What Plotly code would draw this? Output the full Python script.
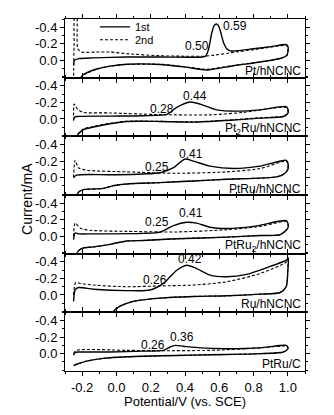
import plotly.graph_objects as go
from plotly.subplots import make_subplots

# ---------------- data ----------------
PANEL_LABELS = ["Pt/hNCNC", "Pt<sub>2</sub>Ru/hNCNC", "PtRu/hNCNC",
                "PtRu<sub>2</sub>/hNCNC", "Ru/hNCNC", "PtRu/C"]
ONSET_LABELS = ["0.50", "0.28", "0.25", "0.25", "0.26", "0.26"]
PEAK_LABELS = ["0.59", "0.44", "0.41", "0.41", "0.42", "0.36"]
SERIES_NAMES = ["1st", "2nd"]

X_TICKS = [-0.2, 0.0, 0.2, 0.4, 0.6, 0.8, 1.0]
X_TICK_TEXT = ["-0.2", "0.0", "0.2", "0.4", "0.6", "0.8", "1.0"]
Y_TICKS = [-0.4, -0.2, 0.0]
Y_TICK_TEXT = ["-0.4", "-0.2", "0.0"]

# Pt/hNCNC
PT_1ST_V = [-0.25, -0.245, -0.22, -0.134, 0.06, 0.255, 0.50, 0.52, 0.537, 0.556, 0.57, 0.582,
            0.595, 0.608, 0.624, 0.644, 0.665, 0.70, 0.80, 0.90, 0.99, 1.0, 1.0,
            0.994, 0.96, 0.838, 0.683, 0.527, 0.41, 0.255, 0.06, -0.037, -0.115, -0.193, -0.215]
PT_1ST_I = [0.06, 0.0, -0.02, -0.03, -0.04, -0.04, -0.04, -0.05, -0.13, -0.33, -0.42, -0.44,
            -0.42, -0.34, -0.22, -0.14, -0.115, -0.115, -0.14, -0.165, -0.19, -0.17, -0.10,
            -0.06, -0.025, 0.02, 0.065, 0.117, 0.085, 0.05, 0.048, 0.07, 0.105, 0.175, 0.23]
PT_2ND_V = [-0.25, -0.247, -0.242, -0.232, -0.225, -0.203, -0.12, -0.037, 0.06, 0.255, 0.40, 0.508,
            0.58, 0.663, 0.838, 0.99, 1.0, 1.0,
            0.994, 0.96, 0.838, 0.683, 0.527, 0.41, 0.255, 0.06, -0.037, -0.115, -0.193, -0.215]
PT_2ND_I = [0.25, -0.2, -0.6, -0.6, -0.14, -0.10, -0.10, -0.10, -0.08, -0.055, -0.05, -0.05,
            -0.065, -0.09, -0.14, -0.18, -0.16, -0.10,
            -0.06, -0.025, 0.02, 0.062, 0.108, 0.08, 0.048, 0.05, 0.072, 0.108, 0.178, 0.23]

# Pt2Ru/hNCNC
PT2RU_1ST_V = [-0.25, -0.245, -0.232, -0.037, 0.157, 0.294, 0.352, 0.43, 0.488, 0.585, 0.702,
               0.838, 0.99, 1.0, 1.0,
               0.974, 0.838, 0.644, 0.449, 0.255, 0.06, -0.037, -0.134, -0.193, -0.22, -0.24]
PT2RU_1ST_I = [0.01, -0.02, -0.03, -0.035, -0.04, -0.055, -0.14, -0.205, -0.18, -0.11, -0.095,
               -0.11, -0.15, -0.12, -0.07,
               -0.03, -0.01, 0.018, 0.038, 0.03, 0.03, 0.057, 0.097, 0.128, 0.176, 0.23]
PT2RU_2ND_V = [-0.25, -0.247, -0.24, -0.222, -0.193, -0.037, 0.255, 0.546, 0.741, 0.99, 1.0, 1.0,
               0.974, 0.838, 0.644, 0.449, 0.255, 0.06, -0.037, -0.134, -0.193, -0.22, -0.24]
PT2RU_2ND_I = [0.02, -0.18, -0.16, -0.11, -0.08, -0.073, -0.053, -0.05, -0.08, -0.14, -0.11, -0.07,
               -0.035, -0.015, 0.015, 0.035, 0.028, 0.028, 0.052, 0.09, 0.12, 0.17, 0.23]

# PtRu/hNCNC
PTRU_1ST_V = [-0.25, -0.232, -0.037, 0.157, 0.255, 0.333, 0.40, 0.449, 0.546, 0.683, 0.838,
              0.99, 1.0, 1.0,
              0.974, 0.935, 0.644, 0.449, 0.255, 0.06, -0.018, -0.076, -0.193, -0.222, -0.235]
PTRU_1ST_I = [0.0, -0.03, -0.035, -0.045, -0.06, -0.12, -0.225, -0.2, -0.14, -0.11, -0.14,
              -0.21, -0.18, -0.10,
              -0.04, -0.01, 0.02, 0.04, 0.06, 0.077, 0.097, 0.13, 0.145, 0.176, 0.23]
PTRU_2ND_V = [-0.25, -0.241, -0.222, -0.173, 0.06, 0.352, 0.644, 0.838, 0.99, 1.0, 1.0,
              0.974, 0.935, 0.644, 0.449, 0.255, 0.06, -0.018, -0.076, -0.193, -0.222, -0.235]
PTRU_2ND_I = [0.0, -0.21, -0.12, -0.09, -0.07, -0.053, -0.07, -0.11, -0.2, -0.17, -0.10,
              -0.04, -0.01, 0.02, 0.04, 0.06, 0.077, 0.097, 0.13, 0.145, 0.176, 0.23]

# PtRu2/hNCNC
PTRU2_1ST_V = [-0.25, -0.241, -0.222, -0.134, 0.157, 0.255, 0.333, 0.41, 0.468, 0.546, 0.644,
               0.80, 0.99, 1.0, 1.0,
               0.955, 0.838, 0.644, 0.352, 0.157, 0.06, -0.037, -0.134, -0.193, -0.222, -0.235]
PTRU2_1ST_I = [0.04, -0.04, -0.03, -0.03, -0.035, -0.05, -0.13, -0.17, -0.16, -0.11, -0.095,
               -0.12, -0.19, -0.16, -0.10,
               -0.02, -0.01, 0.01, 0.03, 0.05, 0.057, 0.097, 0.128, 0.14, 0.176, 0.23]
PTRU2_2ND_V = [-0.25, -0.241, -0.212, -0.154, 0.06, 0.352, 0.644, 0.838, 0.99, 1.0, 1.0,
               0.955, 0.838, 0.644, 0.352, 0.157, 0.06, -0.037, -0.134, -0.193, -0.222, -0.235]
PTRU2_2ND_I = [0.0, -0.16, -0.10, -0.073, -0.06, -0.053, -0.08, -0.12, -0.18, -0.15, -0.10,
               -0.02, -0.01, 0.01, 0.03, 0.05, 0.057, 0.097, 0.128, 0.14, 0.176, 0.23]

# Ru/hNCNC
RU_1ST_V = [-0.25, -0.241, -0.222, -0.134, 0.06, 0.196, 0.274, 0.352, 0.41, 0.468, 0.546, 0.644,
            0.76, 0.877, 0.994, 1.003, 1.0, 0.99,
            0.955, 0.838, 0.644, 0.449, 0.255, 0.099, 0.021, -0.018, -0.03]
RU_1ST_I = [0.077, -0.06, -0.09, -0.07, -0.053, -0.06, -0.14, -0.30, -0.36, -0.32, -0.24, -0.22,
            -0.25, -0.33, -0.425, -0.45, -0.30, -0.10,
            -0.03, -0.01, 0.01, 0.018, 0.038, 0.077, 0.136, 0.20, 0.23]
RU_2ND_V = [-0.25, -0.245, -0.238, -0.212, -0.134, 0.06, 0.255, 0.449, 0.644, 0.838, 0.994, 1.0,
            1.0, 0.99, 0.955, 0.838, 0.644, 0.449, 0.255, 0.099, 0.021, -0.018, -0.03]
RU_2ND_I = [0.0, -0.10, -0.15, -0.14, -0.12, -0.10, -0.11, -0.12, -0.16, -0.26, -0.40, -0.43,
            -0.30, -0.10, -0.03, -0.01, 0.01, 0.018, 0.038, 0.077, 0.136, 0.20, 0.23]

# PtRu/C
PTRUC_1ST_V = [-0.25, -0.241, -0.212, -0.037, 0.157, 0.274, 0.313, 0.342, 0.39, 0.488, 0.644,
               0.838, 0.99, 1.0, 1.0,
               0.974, 0.838, 0.644, 0.449, 0.255, 0.06, -0.076, -0.173, -0.232, -0.25]
PTRUC_1ST_I = [0.02, -0.014, -0.02, -0.02, -0.03, -0.04, -0.08, -0.10, -0.09, -0.07, -0.06,
               -0.07, -0.10, -0.08, -0.06,
               -0.02, 0.0, 0.01, 0.018, 0.026, 0.038, 0.057, 0.09, 0.128, 0.145]
PTRUC_2ND_V = [-0.25, -0.232, 0.06, 0.255, 0.546, 0.838, 0.99, 1.0, 1.0,
               0.974, 0.838, 0.644, 0.449, 0.255, 0.06, -0.076, -0.173, -0.232, -0.25]
PTRUC_2ND_I = [0.0, -0.04, -0.04, -0.036, -0.04, -0.07, -0.09, -0.07, -0.06,
               -0.02, 0.0, 0.01, 0.018, 0.026, 0.038, 0.057, 0.09, 0.128, 0.145]

PANELS = [
    (PT_1ST_V, PT_1ST_I, PT_2ND_V, PT_2ND_I),
    (PT2RU_1ST_V, PT2RU_1ST_I, PT2RU_2ND_V, PT2RU_2ND_I),
    (PTRU_1ST_V, PTRU_1ST_I, PTRU_2ND_V, PTRU_2ND_I),
    (PTRU2_1ST_V, PTRU2_1ST_I, PTRU2_2ND_V, PTRU2_2ND_I),
    (RU_1ST_V, RU_1ST_I, RU_2ND_V, RU_2ND_I),
    (PTRUC_1ST_V, PTRUC_1ST_I, PTRUC_2ND_V, PTRUC_2ND_I),
]

# ---------------- label placement (layout, not data) ----------------
ONSET_POS = [(0.470, -0.168), (0.266, -0.124), (0.237, -0.128), (0.237, -0.171), (0.225, -0.183), (0.216, -0.104)]
PEAK_POS = [(0.692, -0.417), (0.458, -0.282), (0.435, -0.285), (0.435, -0.278), (0.432, -0.43), (0.38, -0.203)]
LABEL_Y = [0.129, 0.125, 0.133, 0.117, 0.113, 0.122]

FONT = "Arial, Liberation Sans, sans-serif"
N = len(PANELS)
fig = make_subplots(rows=N, cols=1, shared_xaxes=True, vertical_spacing=0)

for r, (v1, i1, v2, i2) in enumerate(PANELS, start=1):
    fig.add_trace(go.Scatter(x=v1, y=i1, mode="lines", name=SERIES_NAMES[0], legend="legend",
                             line=dict(color="black", width=1.4, shape="spline", smoothing=0.7),
                             showlegend=(r == 1)), row=r, col=1)
    fig.add_trace(go.Scatter(x=v2, y=i2, mode="lines", name=SERIES_NAMES[1], legend="legend2",
                             line=dict(color="black", width=1.1, dash="3px,2px", shape="spline", smoothing=0.7),
                             showlegend=(r == 1)), row=r, col=1)

    xa = "x" if r == 1 else f"x{r}"
    ya = "y" if r == 1 else f"y{r}"
    fig.add_annotation(x=ONSET_POS[r - 1][0], y=ONSET_POS[r - 1][1], xref=xa, yref=ya,
                       xanchor="center", yanchor="middle",
                       text=ONSET_LABELS[r - 1], showarrow=False, font=dict(size=12, color="black", family=FONT))
    fig.add_annotation(x=PEAK_POS[r - 1][0], y=PEAK_POS[r - 1][1], xref=xa, yref=ya,
                       xanchor="center", yanchor="middle",
                       text=PEAK_LABELS[r - 1], showarrow=False, font=dict(size=12, color="black", family=FONT))
    fig.add_annotation(x=0.99, y=LABEL_Y[r - 1], xref=f"{xa} domain", yref=ya, xanchor="right",
                       yanchor="middle",
                       text=PANEL_LABELS[r - 1], showarrow=False, font=dict(size=12, color="black", family=FONT))

    fig.update_yaxes(row=r, col=1, range=[0.21, -0.5], tickvals=Y_TICKS, ticktext=Y_TICK_TEXT,
                     ticks="outside", ticklen=4, tickwidth=1, tickcolor="black",
                     minor=dict(tickvals=[-0.5, -0.3, -0.1, 0.1, 0.2], ticks="outside", ticklen=2, tickcolor="black"),
                     showline=True, linecolor="black", linewidth=1, mirror="allticks",
                     showgrid=False, zeroline=False, automargin=False,
                     tickfont=dict(size=13, color="black", family=FONT))
    fig.update_xaxes(row=r, col=1, range=[-0.3, 1.1], tickvals=X_TICKS, ticktext=X_TICK_TEXT,
                     ticks="outside", ticklen=4, tickwidth=1, tickcolor="black",
                     minor=dict(dtick=0.1, tick0=-0.3, ticks="outside", ticklen=2, tickcolor="black"),
                     showline=True, linecolor="black", linewidth=1, mirror="allticks",
                     showgrid=False, zeroline=False, showticklabels=(r == N), automargin=False,
                     tickfont=dict(size=13, color="black", family=FONT))

fig.add_annotation(x=0.5, y=-0.086, xref="paper", yref="paper", text="Potential/V (vs. SCE)",
                   showarrow=False, xanchor="center", yanchor="middle",
                   font=dict(size=13, color="black", family=FONT))
fig.add_annotation(x=-0.158, y=0.489, xref="paper", yref="paper", text="Current/mA", textangle=-90,
                   showarrow=False, xanchor="center", yanchor="middle",
                   font=dict(size=14, color="black", family=FONT))

LEG = dict(xanchor="left", yanchor="middle", bgcolor="rgba(0,0,0,0)", borderwidth=0,
           font=dict(size=11, color="black", family=FONT), itemwidth=30)
fig.update_layout(
    width=334, height=415,
    margin=dict(l=65, r=29, t=15, b=44),
    paper_bgcolor="white", plot_bgcolor="white",
    font=dict(family=FONT, color="black", size=12),
    legend=dict(x=0.125, y=0.9775, **LEG),
    legend2=dict(x=0.125, y=0.9410, **LEG),
)

fig.write_html("out.html", config={"displayModeBar": False},
               post_script="document.body.style.margin='0';")
